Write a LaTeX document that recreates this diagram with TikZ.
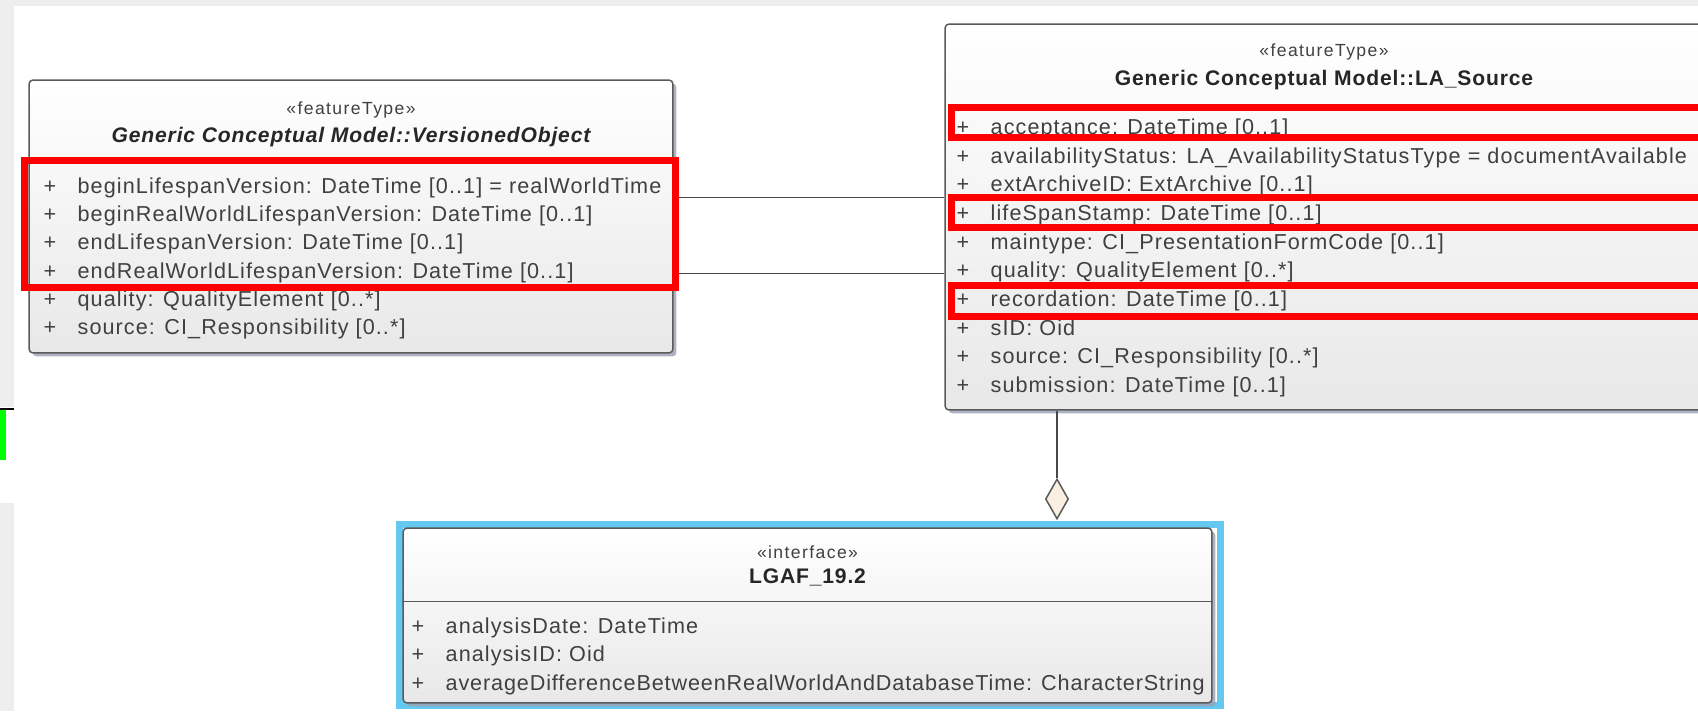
\documentclass[tikz,border=0pt]{standalone}
\usepackage{fontspec}
\setmainfont{Liberation Sans}
\usetikzlibrary{calc,positioning,shapes.geometric,shadows}
\definecolor{AGray}{HTML}{5A5A5A}
\definecolor{AText}{HTML}{404040}
\definecolor{ABlue}{HTML}{64C8F0}
\definecolor{ACream}{HTML}{FAF0E1}
\definecolor{AShadow}{HTML}{9AA1B4}
\definecolor{AStrip}{HTML}{EEEEEE}
\tikzset{
    classbox/.style = {draw=AGray, line width=0.03cm, rounded corners=0.08cm,
        shading=axis, top color=white, bottom color=black!9, inner sep=0pt,
        drop shadow={shadow xshift=0.07cm, shadow yshift=-0.07cm, fill=AShadow, opacity=0.8}},
    stereo/.style = {inner sep=0pt, yshift=-0.05cm, text=AText,
        font=\fontsize{10}{12}\selectfont\addfontfeature{LetterSpace=8}},
    cname/.style = {inner sep=0pt, yshift=-0.05cm, text=black!85,
        font=\fontsize{12}{14}\selectfont\bfseries\addfontfeature{LetterSpace=4}},
    attr/.style = {inner sep=0pt, anchor=west, yshift=-0.05cm, text=AText, text height=1.6ex, text depth=0.4ex,
        font=\fontsize{12.3}{14}\selectfont\addfontfeature{LetterSpace=5}},
    hilite/.style = {draw=red, line width=0.14cm},
    assoc/.style = {draw=AGray!80!black, line width=0.03cm}
}
\newcommand{\attr}[1]{\makebox[0.68cm][l]{+}#1}

\begin{document}
\begin{tikzpicture}[x=0.02cm, y=-0.02cm]
    \clip (0,0) rectangle (1698,711);
    \fill[white] (0,0) rectangle (1698,711);
    % page edges
    \fill[AStrip] (0,0) rectangle (1698,6);
    \fill[AStrip] (0,0) rectangle (14,407);
    \fill[AStrip] (0,503) rectangle (14,711);
    \fill[green] (0,410) rectangle (6,460);
    \draw[line width=0.04cm] (0,409) -- (14,409);

    % VersionedObject
    \node [classbox, minimum width=12.88cm, minimum height=5.46cm] (vo) at (351,216.5) {};
    \node [stereo] (vo-st) at ($(vo.north)+(0,28)$) {«featureType»};
    \node [cname] (vo-name) at ($(vo.north)+(0,55)$) {\itshape Generic Conceptual Model::VersionedObject};
    \node [attr] (vo-a1) at ($(vo.north west)+(15,106)$) {\attr{beginLifespanVersion: DateTime [0..1] = realWorldTime}};
    \node [attr] (vo-a2) at ($(vo.north west)+(15,134.3)$) {\attr{beginRealWorldLifespanVersion: DateTime [0..1]}};
    \node [attr] (vo-a3) at ($(vo.north west)+(15,162.6)$) {\attr{endLifespanVersion: DateTime [0..1]}};
    \node [attr] (vo-a4) at ($(vo.north west)+(15,190.9)$) {\attr{endRealWorldLifespanVersion: DateTime [0..1]}};
    \node [attr] (vo-a5) at ($(vo.north west)+(15,219.2)$) {\attr{quality: QualityElement [0..*]}};
    \node [attr] (vo-a6) at ($(vo.north west)+(15,247.5)$) {\attr{source: CI\_Responsibility [0..*]}};

    % LA_Source
    \node [classbox, minimum width=15.16cm, minimum height=7.72cm] (src) at (1324,217) {};
    \node [stereo] (src-st) at ($(src.north)+(0,26)$) {«featureType»};
    \node [cname] (src-name) at ($(src.north)+(0,54)$) {Generic Conceptual Model::LA\_Source};
    \node [attr] (src-a1) at ($(src.north west)+(12,103)$) {\attr{acceptance: DateTime [0..1]}};
    \node [attr] (src-a2) at ($(src.north west)+(12,131.7)$) {\attr{availabilityStatus: LA\_AvailabilityStatusType = documentAvailable}};
    \node [attr] (src-a3) at ($(src.north west)+(12,160.4)$) {\attr{extArchiveID: ExtArchive [0..1]}};
    \node [attr] (src-a4) at ($(src.north west)+(12,189.1)$) {\attr{lifeSpanStamp: DateTime [0..1]}};
    \node [attr] (src-a5) at ($(src.north west)+(12,217.8)$) {\attr{maintype: CI\_PresentationFormCode [0..1]}};
    \node [attr] (src-a6) at ($(src.north west)+(12,246.5)$) {\attr{quality: QualityElement [0..*]}};
    \node [attr] (src-a7) at ($(src.north west)+(12,275.2)$) {\attr{recordation: DateTime [0..1]}};
    \node [attr] (src-a8) at ($(src.north west)+(12,303.9)$) {\attr{sID: Oid}};
    \node [attr] (src-a9) at ($(src.north west)+(12,332.6)$) {\attr{source: CI\_Responsibility [0..*]}};
    \node [attr] (src-a10) at ($(src.north west)+(12,361.3)$) {\attr{submission: DateTime [0..1]}};

    % associations
    \coordinate (l1) at ($(vo.north east)+(0,118)$);
    \coordinate (l2) at ($(vo.north east)+(0,194)$);
    \draw [assoc] (l1) -- (l1 -| src.west);
    \draw [assoc] (l2) -- (l2 -| src.west);

    % LGAF_19.2
    \node [draw=ABlue, line width=0.14cm, minimum width=16.42cm, minimum height=3.62cm, inner sep=0pt] (frame) at (810,615) {};
    \node [classbox, minimum width=16.18cm, minimum height=3.5cm] (lgaf) at (807.5,615.5) {};
    \draw [AGray, line width=0.03cm] ($(lgaf.north west)+(0,74)$) -- ($(lgaf.north east)+(0,74)$);
    \node [stereo] (lgaf-st) at ($(lgaf.north)+(0,22)$) {«interface»};
    \node [cname] (lgaf-name) at ($(lgaf.north)+(0,48)$) {LGAF\_19.2};
    \node [attr] (lgaf-a1) at ($(lgaf.north west)+(9,98)$) {\attr{analysisDate: DateTime}};
    \node [attr] (lgaf-a2) at ($(lgaf.north west)+(9,126)$) {\attr{analysisID: Oid}};
    \node [attr, font=\fontsize{12.3}{14}\selectfont\addfontfeature{LetterSpace=4}] (lgaf-a3) at ($(lgaf.north west)+(9,155)$) {\attr{averageDifferenceBetweenRealWorldAndDatabaseTime: CharacterString}};

    % aggregation
    \node [diamond, draw=AGray, fill=ACream, line width=0.03cm, minimum width=0.46cm, minimum height=0.8cm, inner sep=0pt, aspect=0.575] (agg) at (1057,499) {};
    \draw [assoc] (agg.north) -- (agg.north |- src.south);

    % highlights
    \draw [hilite] ($(vo.north west)+(-3.5,81.5)$) rectangle ($(vo.north east)+(1.5,208.5)$);
    \draw [hilite] ($(src.north west)+(7.5,84.5)$) rectangle ($(src.north east)+(20,114.5)$);
    \draw [hilite] ($(src.north west)+(7.5,174.5)$) rectangle ($(src.north east)+(20,204.5)$);
    \draw [hilite] ($(src.north west)+(7.5,262.5)$) rectangle ($(src.north east)+(20,293.5)$);
\end{tikzpicture}
\end{document}
